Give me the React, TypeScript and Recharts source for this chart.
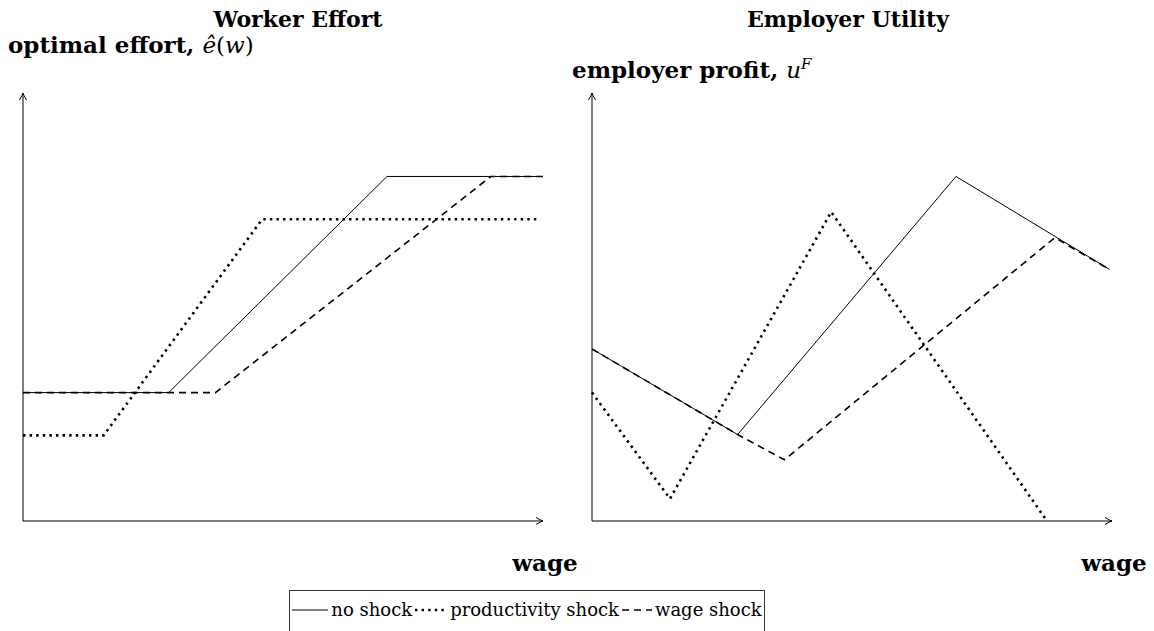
import React from 'react';
import { LineChart, Line, XAxis, YAxis, ReferenceLine, ReferenceDot } from 'recharts';

type Pt = { x: number; y: number };

// Worker effort panel
const effortNoShock: Pt[] = [
    { x: 0, y: 3 },
    { x: 2.8, y: 3 },
    { x: 7.0, y: 8.05 },
    { x: 10, y: 8.05 }
];
const effortProductivity: Pt[] = [
    { x: 0, y: 2 },
    { x: 1.55, y: 2 },
    { x: 4.6, y: 7.05 },
    { x: 9.9, y: 7.05 }
];
const effortWage: Pt[] = [
    { x: 0, y: 3 },
    { x: 3.7, y: 3 },
    { x: 9.0, y: 8.05 },
    { x: 10, y: 8.05 }
];

// Employer utility panel
const profitNoShock: Pt[] = [
    { x: 0, y: 4.02 },
    { x: 2.8, y: 2.02 },
    { x: 7.0, y: 8.05 },
    { x: 9.95, y: 5.88 }
];
const profitProductivity: Pt[] = [
    { x: 0, y: 3 },
    { x: 1.5, y: 0.52 },
    { x: 4.6, y: 7.22 },
    { x: 8.75, y: 0 }
];
const profitWage: Pt[] = [
    { x: 0, y: 4.02 },
    { x: 2.8, y: 2.02 },
    { x: 3.7, y: 1.43 },
    { x: 8.9, y: 6.62 },
    { x: 9.95, y: 5.88 }
];

const seriesNames = ['no shock', 'productivity shock', 'wage shock'];

const FONT = '"DejaVu Serif", serif';
const SOLID = { stroke: '#000', strokeWidth: 1 };
const DOTTED = { stroke: '#000', strokeWidth: 2.6, strokeDasharray: '2.4 4.2' };
const DASHED = { stroke: '#000', strokeWidth: 1.6, strokeDasharray: '7 5' };
const styles = [SOLID, DOTTED, DASHED];
const sampleWidths = [36, 32, 30];

const arrowRight = (p: any) => (
    <path
        d={`M${p.cx - 7},${p.cy - 3.5} Q${p.cx - 2},${p.cy - 0.5} ${p.cx},${p.cy} Q${p.cx - 2},${p.cy + 0.5} ${p.cx - 7},${p.cy + 3.5}`}
        stroke="#000"
        strokeWidth={1}
        fill="none"
    />
);
const arrowUp = (p: any) => (
    <path
        d={`M${p.cx - 3.5},${p.cy + 7} Q${p.cx - 0.5},${p.cy + 2} ${p.cx},${p.cy} Q${p.cx + 0.5},${p.cy + 2} ${p.cx + 3.5},${p.cy + 7}`}
        stroke="#000"
        strokeWidth={1}
        fill="none"
    />
);

type PanelProps = {
    series: Pt[][];
    left: number;
    width: number;
    margin: { top: number; right: number; bottom: number; left: number };
};

const Panel = (props: PanelProps) => {
    const { series, left, width, margin } = props;
    return (
        <div style={{ position: 'absolute', left, top: 0 }}>
            <LineChart width={width} height={560} margin={margin}>
                <XAxis type="number" dataKey="x" domain={[0, 10]} hide />
                <YAxis type="number" dataKey="y" domain={[0, 10]} hide />
                <ReferenceLine
                    segment={[{ x: 0, y: 0 }, { x: 10, y: 0 }]}
                    stroke="#000"
                    strokeWidth={1}
                    ifOverflow="visible"
                />
                <ReferenceLine
                    segment={[{ x: 0, y: 0 }, { x: 0, y: 10 }]}
                    stroke="#000"
                    strokeWidth={1}
                    ifOverflow="visible"
                />
                <ReferenceDot x={10} y={0} ifOverflow="visible" shape={arrowRight} />
                <ReferenceDot x={0} y={10} ifOverflow="visible" shape={arrowUp} />
                {series.map((d, i) => (
                    <Line
                        key={seriesNames[i]}
                        data={d}
                        dataKey="y"
                        type="linear"
                        dot={false}
                        activeDot={false}
                        isAnimationActive={false}
                        {...styles[i]}
                    />
                ))}
            </LineChart>
        </div>
    );
};

const textBold: React.CSSProperties = {
    position: 'absolute',
    fontFamily: FONT,
    fontWeight: 'bold',
    whiteSpace: 'nowrap',
    lineHeight: '28px',
    fontSize: 22
};

const App = () => {
    return (
        <div
            style={{
                position: 'absolute',
                left: 0,
                top: 0,
                width: 1154,
                height: 631,
                background: '#fff',
                overflow: 'hidden',
                fontFamily: FONT
            }}
        >
            <Panel
                series={[effortNoShock, effortProductivity, effortWage]}
                left={0}
                width={580}
                margin={{ top: 93, right: 37, bottom: 39, left: 23 }}
            />
            <Panel
                series={[profitNoShock, profitProductivity, profitWage]}
                left={570}
                width={584}
                margin={{ top: 93, right: 42, bottom: 39, left: 22 }}
            />

            <div style={{ ...textBold, left: 188, width: 220, top: 5, textAlign: 'center' }}>
                Worker Effort
            </div>
            <div style={{ ...textBold, left: 738, width: 220, top: 5, textAlign: 'center' }}>
                Employer Utility
            </div>
            <div style={{ ...textBold, left: 8, top: 31, fontSize: 23 }}>
                optimal effort,{' '}
                <span style={{ fontWeight: 'normal', fontStyle: 'italic' }}>
                    ê<span style={{ fontStyle: 'normal' }}>(</span>w<span style={{ fontStyle: 'normal' }}>)</span>
                </span>
            </div>
            <div style={{ ...textBold, left: 572, top: 56, fontSize: 23 }}>
                employer profit,{' '}
                <span style={{ fontWeight: 'normal', fontStyle: 'italic' }}>
                    u<sup style={{ fontSize: 15, lineHeight: 0 }}>F</sup>
                </span>
            </div>
            <div style={{ ...textBold, left: 495, width: 100, top: 549, textAlign: 'center', fontSize: 23 }}>
                wage
            </div>
            <div style={{ ...textBold, left: 1064, width: 100, top: 549, textAlign: 'center', fontSize: 23 }}>
                wage
            </div>

            <div
                style={{
                    position: 'absolute',
                    left: 289,
                    top: 590,
                    width: 476,
                    height: 60,
                    border: '1px solid #333',
                    boxSizing: 'border-box',
                    display: 'flex',
                    alignItems: 'flex-start',
                    justifyContent: 'center',
                    paddingTop: 8,
                    fontSize: 18,
                    whiteSpace: 'nowrap'
                }}
            >
                {seriesNames.map((name, i) => (
                    <div key={name} style={{ display: 'flex', alignItems: 'center', marginRight: i < 2 ? 3 : 0 }}>
                        <svg width={sampleWidths[i]} height={10} style={{ marginRight: 3 }}>
                            <line x1={0} y1={5} x2={sampleWidths[i]} y2={5} {...styles[i]} />
                        </svg>
                        <span>{name}</span>
                    </div>
                ))}
            </div>
        </div>
    );
};

export default App;
